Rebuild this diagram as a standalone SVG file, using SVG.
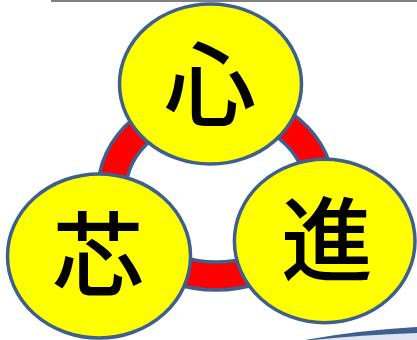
<svg xmlns="http://www.w3.org/2000/svg" width="417" height="340" viewBox="0 0 417 340">
<style>
.node{fill:#FFFF00;stroke:#3F5F8E;stroke-width:3.5}
.lbl{font-family:"Noto Sans CJK JP","Noto Sans CJK SC",sans-serif;font-size:92px;font-weight:500;fill:#000;text-anchor:middle}
</style>
<rect x="0" y="0" width="417" height="340" fill="#fff"/>
<rect x="51" y="0" width="366" height="2" fill="#808080"/>
<path d="M305,340 Q360,331 417,327 L417,340 Z" fill="#DCE5F1"/>
<path d="M305,340 Q360,330 417,327 L417,333 Q360,335 312,340 Z" fill="#3F5F8E"/>
<g id="connectors">
<path d="M98,190 A118,100 0 1 0 334,190 A118,100 0 1 0 98,190 Z M126,190 A90,72 0 1 1 306,190 A90,72 0 1 1 126,190 Z" fill="#FF0000" fill-rule="evenodd" stroke="#3F5F8E" stroke-width="3.5"/>
</g>
<g id="node-top">
<ellipse class="node" cx="210.5" cy="84" rx="91" ry="80"/>
<text class="lbl" x="210" y="119">心</text>
</g>
<g id="node-left">
<ellipse class="node" cx="99" cy="256" rx="91.5" ry="82"/>
<text class="lbl" x="98" y="289">芯</text>
</g>
<g id="node-right">
<ellipse class="node" cx="324.7" cy="241" rx="90.3" ry="81.7"/>
<text class="lbl" x="327" y="274">進</text>
</g>
</svg>
